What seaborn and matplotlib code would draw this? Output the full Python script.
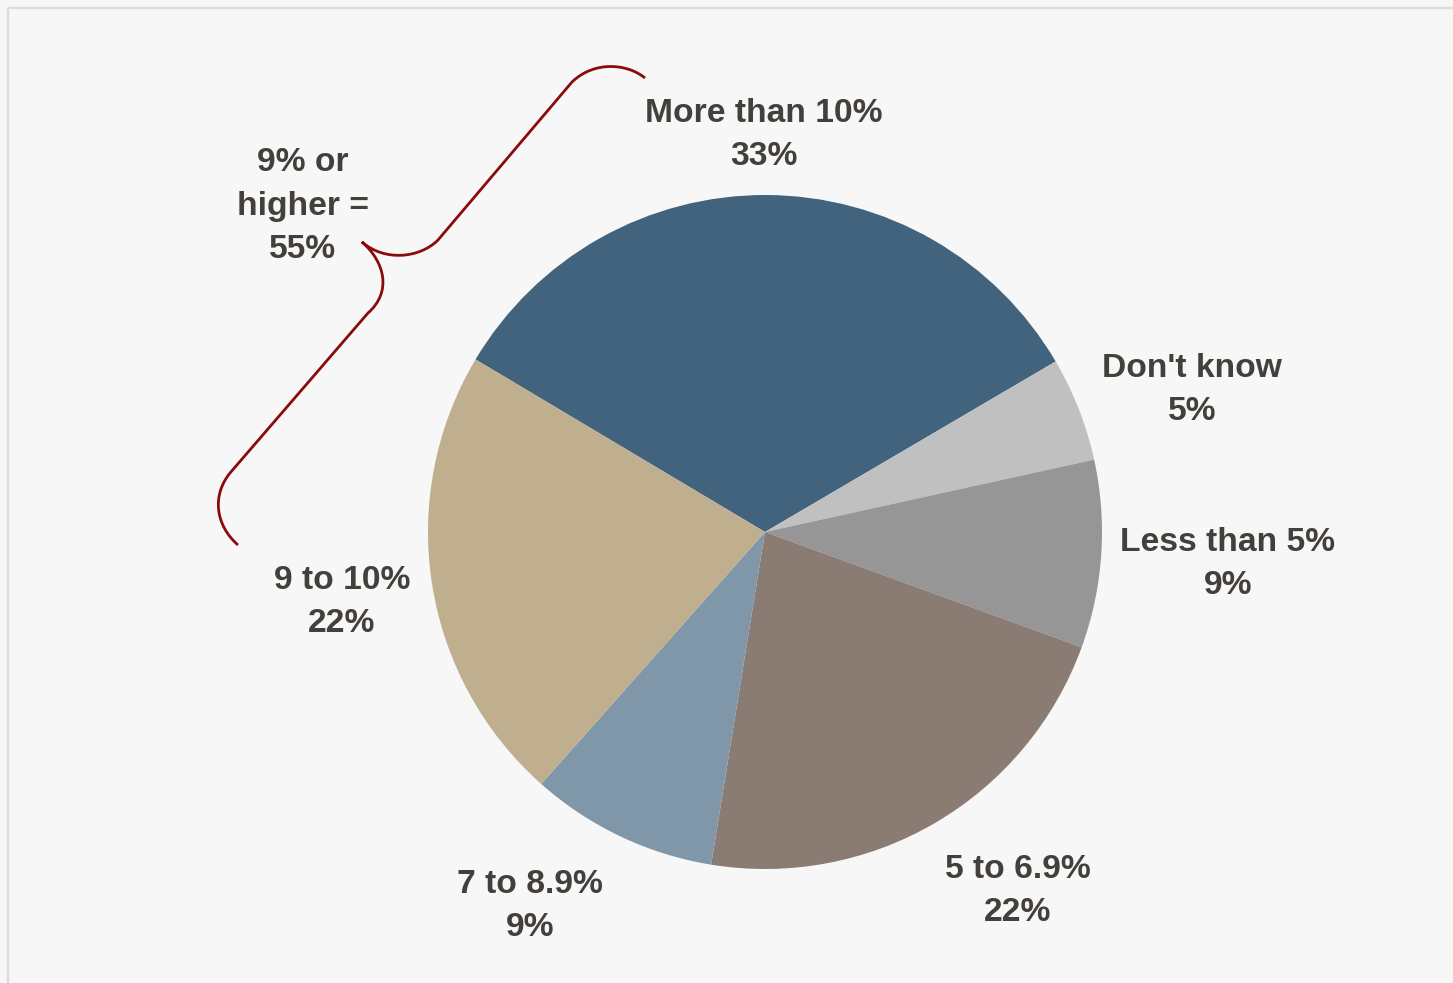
import matplotlib
matplotlib.use("Agg")
import matplotlib.pyplot as plt
from matplotlib.path import Path
from matplotlib.patches import PathPatch, Rectangle
import seaborn as sns

# Survey answers, clockwise from the top-left edge of the pie
categories = ["More than 10%", "Don't know", "Less than 5%", "5 to 6.9%", "7 to 8.9%", "9 to 10%"]
shares = [33, 5, 9, 22, 9, 22]
colors = ["#41637D", "#C0C0C0", "#969696", "#8A7C73", "#7F97A9", "#BFAF8E"]

# Label centres in figure pixels (x, y from top)
label_pos = {
    "More than 10%": (764, 135),
    "Don't know": (1192, 390),
    "Less than 5%": (1228, 564),
    "5 to 6.9%": (1018, 891),
    "7 to 8.9%": (530, 906),
    "9 to 10%": (342, 602),
}
group_note = "9% or\nhigher =\n55%"
group_pos = (303, 206)

sns.set_theme(style="white")
plt.rcParams["font.family"] = ["Liberation Sans", "DejaVu Sans"]

W, H = 1453, 983
fig = plt.figure(figsize=(W / 100, H / 100), dpi=100)
fig.patch.set_facecolor("#F7F7F7")

# Pie axes: centre (765, 532) px, radius 337 px
cx, cy, r = 765, 532, 337
ax = fig.add_axes([(cx - r) / W, 1 - (cy + r) / H, 2 * r / W, 2 * r / H])
ax.pie(shares, colors=colors, startangle=149.2, counterclock=False,
       wedgeprops=dict(linewidth=0))
ax.set_xlim(-1, 1)
ax.set_ylim(-1, 1)
ax.set_axis_off()

# Overlay in pixel coordinates for labels and the bracket
ov = fig.add_axes([0, 0, 1, 1], facecolor="none")
ov.set_xlim(0, W)
ov.set_ylim(H, 0)
ov.set_axis_off()

ov.add_patch(Rectangle((7.5, 7.5), W + 20, H + 20, fill=False,
                       edgecolor="#DCDCDC", linewidth=1.6))

txt_kw = dict(ha="center", va="center", fontsize=24.2, fontweight="bold",
              color="#433F3B", linespacing=1.52)
for cat, val in zip(categories, shares):
    x, y = label_pos[cat]
    ov.text(x, y, f"{cat}\n{val}%", **txt_kw)
ov.text(*group_pos, group_note, **txt_kw)

# Curly bracket spanning the two top categories
verts = [
    (645, 78),
    (628, 64), (595, 60), (572, 82),
    (438, 240),
    (420, 258), (385, 262), (362, 242),
    (385, 262), (392, 292), (368, 313),
    (230, 473),
    (212, 495), (215, 525), (238, 545),
]
codes = [Path.MOVETO,
         Path.CURVE4, Path.CURVE4, Path.CURVE4,
         Path.LINETO,
         Path.CURVE4, Path.CURVE4, Path.CURVE4,
         Path.CURVE4, Path.CURVE4, Path.CURVE4,
         Path.LINETO,
         Path.CURVE4, Path.CURVE4, Path.CURVE4]
ov.add_patch(PathPatch(Path(verts, codes), fill=False, edgecolor="#8B0A0A",
                       linewidth=2.0, capstyle="butt"))

fig.savefig("out.png", dpi=100, facecolor=fig.get_facecolor())
